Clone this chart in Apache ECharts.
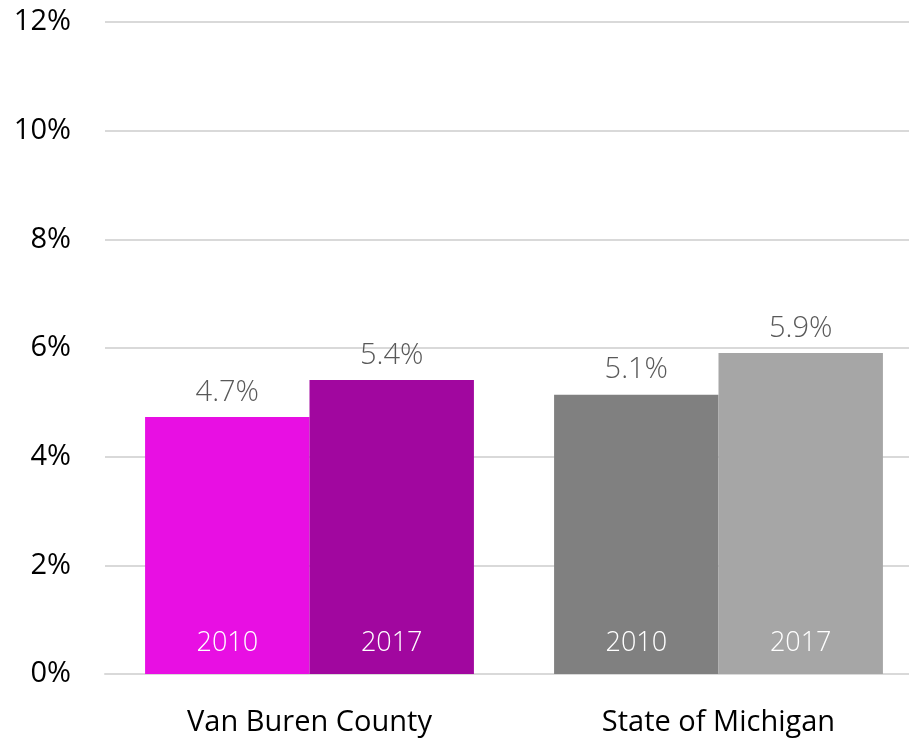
<!DOCTYPE html>
<html><head><meta charset="utf-8">
<script src="https://cdn.jsdelivr.net/npm/echarts@6/dist/echarts.min.js"></script>
<style>html,body{margin:0;padding:0;background:#fff;overflow:hidden}#c{width:923px;height:738px}</style>
</head><body><div id="c"></div>
<script>
const categories = ['Van Buren County', 'State of Michigan'];
const yearLabels = ['2010', '2017'];
const values2010 = [4.73, 5.14];
const values2017 = [5.41, 5.91];
const colors2010 = ['#E80FE3', '#808080'];
const colors2017 = ['#A1079F', '#A6A6A6'];
const yTicks = [0, 2, 4, 6, 8, 10, 12];

const FONT = '"Open Sans", "Noto Sans", sans-serif';
function mk(vals, cols, year) {
  return {
    type: 'bar', name: year, xAxisIndex: 0,
    barGap: '0%', barCategoryGap: '19.6%',
    data: vals.map((v, i) => ({ value: v, itemStyle: { color: cols[i] } })),
    label: {
      show: true, position: 'top', distance: 10,
      formatter: p => p.value.toFixed(1) + '%',
      color: '#595959', fontSize: 29, fontWeight: 300, fontFamily: FONT
    }
  };
}
function mkYear(vals, year) {
  return {
    type: 'bar', name: year + ' label', xAxisIndex: 1,
    barGap: '0%', barCategoryGap: '19.6%',
    data: vals, itemStyle: { color: 'rgba(0,0,0,0)' }, z: 5, silent: true,
    label: {
      show: true, position: 'insideBottom', distance: 17,
      formatter: () => year, color: '#ffffff', fontSize: 27, fontWeight: 300, fontFamily: FONT
    }
  };
}
const chart = echarts.init(document.getElementById('c'));
chart.setOption({
  animation: false,
  grid: { left: 105, right: 0, top: 22, bottom: 64, containLabel: false },
  xAxis: [{
    type: 'category', data: categories,
    axisLine: { show: true, lineStyle: { color: '#D9D9D9', width: 2 } },
    axisTick: { show: false },
    axisLabel: { color: '#000', fontSize: 29, fontFamily: FONT, margin: 34 }
  }, {
    type: 'category', data: categories, show: false, position: 'bottom'
  }],
  yAxis: {
    type: 'value', min: yTicks[0], max: yTicks[yTicks.length - 1], interval: 2,
    axisLine: { show: false }, axisTick: { show: false },
    splitLine: { lineStyle: { color: '#D9D9D9', width: 2 } },
    axisLabel: { color: '#000', fontSize: 29, fontFamily: FONT, margin: 34, formatter: v => v + '%' }
  },
  series: [
    mk(values2010, colors2010, yearLabels[0]),
    mk(values2017, colors2017, yearLabels[1]),
    mkYear(values2010, yearLabels[0]),
    mkYear(values2017, yearLabels[1])
  ]
});
</script></body></html>
